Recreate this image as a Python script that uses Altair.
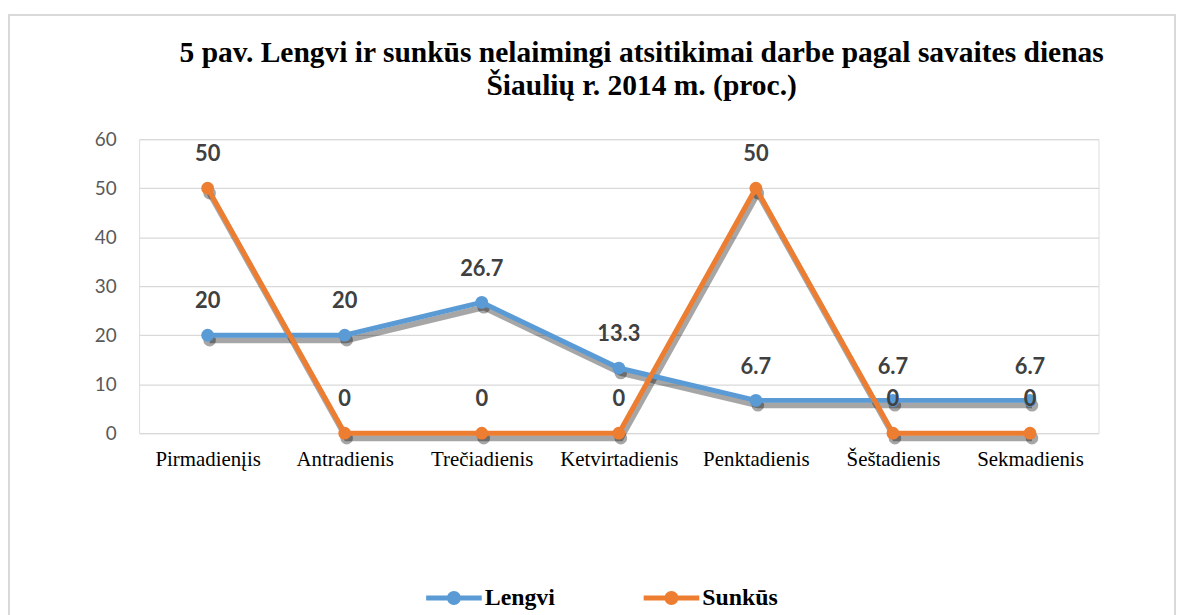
import altair as alt
import pandas as pd

days = ["Pirmadienįis", "Antradienis", "Trečiadienis", "Ketvirtadienis",
        "Penktadienis", "Šeštadienis", "Sekmadienis"]
lengvi = [20, 20, 26.7, 13.3, 6.7, 6.7, 6.7]
sunkus = [50, 0, 0, 0, 50, 0, 0]
series = ["Lengvi", "Sunkūs"]
colors = ["#5B9BD5", "#ED7D31"]

rows = []
for s, vals in zip(series, [lengvi, sunkus]):
    for d, v in zip(days, vals):
        rows.append({"day": d, "value": v, "series": s})
df = pd.DataFrame(rows)

W, H = 966, 296

x = alt.X("day:N", sort=days, title=None,
          scale=alt.Scale(padding=0.5),
          axis=alt.Axis(labelAngle=0, domain=False, ticks=False, grid=False,
                        labelFont="Liberation Serif", labelFontSize=21,
                        labelColor="#000000", labelPadding=16))
y = alt.Y("value:Q", title=None,
          scale=alt.Scale(domain=[0, 60], nice=False),
          axis=alt.Axis(values=[0, 10, 20, 30, 40, 50, 60], domain=False, ticks=False,
                        grid=True, gridColor="#D9D9D9", gridWidth=1.3,
                        labelFont="Lato", labelFontSize=19, labelColor="#595959",
                        labelPadding=23))

legend_path = ("M-1,-0.09L1,-0.09L1,0.09L-1,0.09Z "
               "M-0.25,0A0.25,0.25 0 1,1 0.25,0A0.25,0.25 0 1,1 -0.25,0Z")
leg = alt.Legend(title=None, orient="none", direction="horizontal",
                 legendX=289, legendY=434,
                 symbolType=legend_path, symbolSize=3136,
                 symbolStrokeWidth=0, symbolOpacity=1,
                 labelFont="Liberation Serif", labelFontSize=24,
                 labelFontWeight="bold", labelColor="#000000",
                 labelOffset=3, columnPadding=89)
color = alt.Color("series:N", scale=alt.Scale(domain=series, range=colors), legend=leg)

base = alt.Chart(df)

border = base.mark_rect(fill=None, stroke="#D9D9D9", strokeWidth=1.5, clip=False).encode(
    x=alt.value(-131), x2=alt.value(1043), y=alt.value(-125), y2=alt.value(500)
)

shadow_line = base.mark_line(color="#000000", opacity=0.35, strokeWidth=6,
                             xOffset=2, yOffset=5).encode(
    x=x, y=y, detail="series:N")
shadow_pt = base.mark_circle(color="#000000", opacity=0.35, size=160,
                             xOffset=2, yOffset=5).encode(x=x, y=y)

lines = base.mark_line(strokeWidth=5).encode(x=x, y=y, color=color)
points = base.mark_point(filled=True, size=165, opacity=1, shape="circle").encode(
    x=x, y=y, color=color)

labels = base.mark_text(dy=-34, font="Lato", fontSize=22, fontWeight="bold",
                        color="#404040").encode(
    x=x, y=y, text=alt.Text("value:Q", format=".1~f"))

chart = alt.layer(border, shadow_line, shadow_pt,
                  lines.transform_filter(alt.datum.series == "Lengvi"),
                  points.transform_filter(alt.datum.series == "Lengvi"),
                  lines.transform_filter(alt.datum.series == "Sunkūs"),
                  points.transform_filter(alt.datum.series == "Sunkūs"),
                  labels).properties(
    width=W, height=H,
    title=alt.Title(["5 pav. Lengvi ir sunkūs nelaimingi atsitikimai darbe pagal savaites dienas",
                     "Šiaulių r. 2014 m. (proc.)"],
                    font="Liberation Serif", fontSize=29.7, fontWeight="bold",
                    color="#000000", anchor="middle", dx=23, offset=-88, lineHeight=33),
    autosize=alt.AutoSizeParams(type="none"),
    padding={"left": 132, "top": 130, "right": 79, "bottom": 190},
).configure_view(stroke=None).configure(background="#FFFFFF")

chart.save("out.html", embed_options={"renderer": "svg", "actions": False})
